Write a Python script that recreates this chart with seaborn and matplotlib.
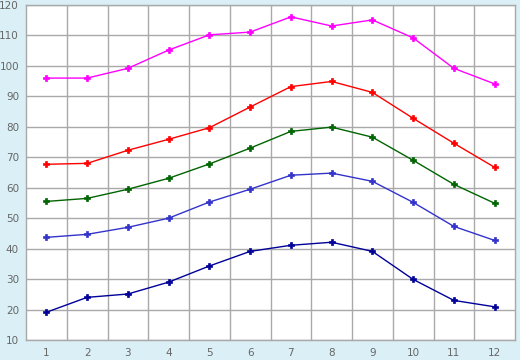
import matplotlib
matplotlib.use("Agg")
import matplotlib.pyplot as plt
import seaborn as sns
import pandas as pd
import numpy as np

months = list(range(1, 13))
s_magenta = [96, 96, 99.2, 105.2, 110.2, 111.1, 116.1, 113.1, 115.1, 109.2, 99.2, 94.1]
s_red = [67.7, 68.0, 72.3, 75.9, 79.7, 86.5, 93.2, 94.9, 91.3, 82.8, 74.6, 66.7]
s_green = [55.5, 56.5, 59.5, 63.1, 67.8, 73.0, 78.5, 79.9, 76.6, 69.0, 61.1, 54.9]
s_blue = [43.7, 44.7, 47.0, 50.0, 55.3, 59.5, 64.1, 64.8, 62.1, 55.2, 47.3, 42.7]
s_navy = [19.1, 24.0, 25.1, 29.0, 34.3, 39.1, 41.1, 42.1, 39.1, 29.9, 23.0, 20.9]

series = {"magenta": s_magenta, "red": s_red, "green": s_green, "blue": s_blue, "navy": s_navy}
colors = {"magenta": "#FF00FF", "red": "#FF0000", "green": "#006400", "blue": "#3333CC", "navy": "#000099"}

df = pd.concat([pd.DataFrame({"month": months, "value": v, "series": k}) for k, v in series.items()])

sns.set_style("white")
plt.rcParams['font.family'] = ['DejaVu Sans']
fig = plt.figure(figsize=(5.2, 3.6), dpi=100)
fig.patch.set_facecolor("#DAEFF6")
ax = fig.add_axes([26/520, 1 - 340/360, (515 - 26)/520, (340 - 5)/360])
ax.set_facecolor("white")

sns.lineplot(data=df, x="month", y="value", hue="series", palette=colors, marker="P",
             markersize=5, markeredgewidth=0.5, linewidth=1, legend=False, ax=ax, zorder=3)
for line in ax.lines:
    line.set_markeredgecolor(line.get_color())

ax.set_xlim(0.5, 12.5)
ax.set_ylim(10, 120)
ax.set_xticks(months)
ax.set_xticks(np.arange(1.5, 12, 1), minor=True)
ax.set_yticks(range(10, 121, 10))
ax.grid(False)
ax.grid(True, which="minor", axis="x", color="#A9A9A9", linewidth=1)
ax.grid(True, which="major", axis="y", color="#A9A9A9", linewidth=1)
ax.set_axisbelow(True)
ax.tick_params(axis="x", which="minor", length=0)
ax.tick_params(axis="both", which="major", length=4, width=1, color="#A9A9A9",
               labelcolor="#666666", labelsize=7.5, pad=2, direction="out")
ax.tick_params(axis="y", length=3)
for sp in ax.spines.values():
    sp.set_color("#A9A9A9")
    sp.set_linewidth(1)
ax.set_xlabel("")
ax.set_ylabel("")

fig.savefig("out.png", dpi=100, facecolor=fig.get_facecolor())
